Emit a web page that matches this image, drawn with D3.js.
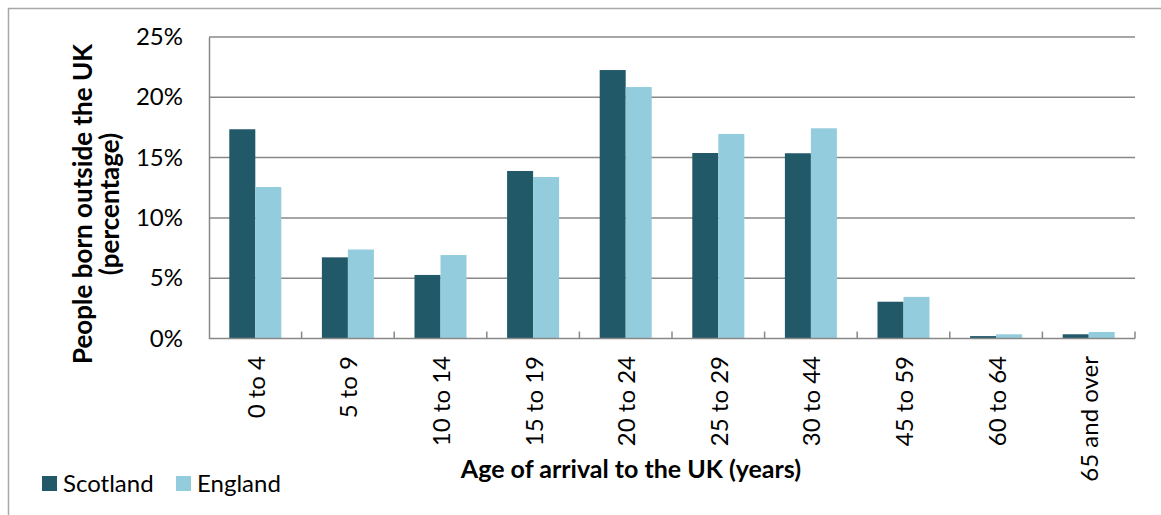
<!DOCTYPE html>
<html>
<head>
<meta charset="utf-8">
<script src="https://cdn.jsdelivr.net/npm/d3@7"></script>
<style>
  html, body { margin: 0; padding: 0; background: #fff; }
  svg { display: block; }
  text { font-family: Lato, "Open Sans", sans-serif; fill: #000; }
</style>
</head>
<body>
<svg id="chart" width="1161" height="515"></svg>
<script>
const categories = ["0 to 4", "5 to 9", "10 to 14", "15 to 19", "20 to 24", "25 to 29", "30 to 44", "45 to 59", "60 to 64", "65 and over"];
const seriesNames = ["Scotland", "England"];
const scotland = [17.35, 6.73, 5.27, 13.89, 22.26, 15.38, 15.36, 3.05, 0.2, 0.35];
const england = [12.56, 7.38, 6.92, 13.39, 20.85, 16.96, 17.43, 3.45, 0.35, 0.54];
const yTicks = [0, 5, 10, 15, 20, 25];
const yTitle = ["People born outside the UK", "(percentage)"];
const xTitle = "Age of arrival to the UK (years)";

const colors = { Scotland: "#215968", England: "#93cddd" };
const gridColor = "#888888";

const svg = d3.select("#chart");
const plot = { left: 209, right: 1135, top: 37, bottom: 338.5 };

// outer frame (extends past right/bottom edge as in reference)
svg.append("rect")
  .attr("x", 8.5).attr("y", 8.5)
  .attr("width", 1200).attr("height", 600)
  .attr("fill", "none").attr("stroke", "#a8a8a8").attr("stroke-width", 1.5);

const x = d3.scaleBand().domain(categories).range([plot.left, plot.right]).padding(0);
const x1 = d3.scaleBand().domain(seriesNames).range([0, x.bandwidth()]).paddingInner(0).paddingOuter(0.78);
const y = d3.scaleLinear().domain([0, 25]).range([plot.bottom, plot.top]);

// gridlines
svg.append("g").selectAll("line").data(yTicks.filter(d => d > 0)).join("line")
  .attr("x1", plot.left).attr("x2", plot.right)
  .attr("y1", d => y(d)).attr("y2", d => y(d))
  .attr("stroke", gridColor).attr("stroke-width", 1.5);

// y axis
const yAxis = d3.axisLeft(y).tickValues(yTicks).tickSize(0).tickPadding(26).tickFormat(d => d + "%");
const gy = svg.append("g").attr("transform", `translate(${plot.left},0)`).call(yAxis);
gy.select(".domain").attr("stroke", gridColor).attr("stroke-width", 1.5);
gy.selectAll("text").attr("font-size", 24).attr("font-family", "Lato, sans-serif").attr("fill", "#000");

// bars
const data = categories.map((c, i) => ({ cat: c, vals: [
  { key: "Scotland", v: scotland[i] }, { key: "England", v: england[i] } ] }));
const groups = svg.append("g").selectAll("g").data(data).join("g")
  .attr("transform", d => `translate(${x(d.cat)},0)`);
groups.selectAll("rect").data(d => d.vals).join("rect")
  .attr("x", d => x1(d.key))
  .attr("width", x1.bandwidth())
  .attr("y", d => y(d.v))
  .attr("height", d => y(0) - y(d.v))
  .attr("fill", d => colors[d.key]);

// x axis with ticks between categories (pointing up)
const xAxisG = svg.append("g");
xAxisG.append("line")
  .attr("x1", plot.left).attr("x2", plot.right)
  .attr("y1", y(0)).attr("y2", y(0))
  .attr("stroke", gridColor).attr("stroke-width", 1.5);
const boundaries = categories.map(c => x(c) + x.bandwidth());
xAxisG.selectAll("line.tick").data(boundaries).join("line").attr("class", "tick")
  .attr("x1", d => d).attr("x2", d => d)
  .attr("y1", y(0)).attr("y2", y(0) - 7)
  .attr("stroke", gridColor).attr("stroke-width", 1.5);

// x tick labels rotated
svg.append("g").selectAll("text").data(categories).join("text")
  .attr("transform", d => `translate(${x(d) + x.bandwidth() / 2 + 1},356) rotate(-90)`)
  .attr("text-anchor", "end")
  .attr("dy", "0.35em")
  .attr("font-size", 24)
  .text(d => d);

// y title
const yt = svg.append("text")
  .attr("transform", `translate(0,204) rotate(-90)`)
  .attr("text-anchor", "middle")
  .attr("font-size", 26)
  .attr("font-weight", "bold");
yt.append("tspan").attr("x", 0).attr("y", 92).text(yTitle[0]);
yt.append("tspan").attr("x", 0).attr("y", 119).text(yTitle[1]);

// x title
svg.append("text")
  .attr("x", 631).attr("y", 478)
  .attr("text-anchor", "middle")
  .attr("font-size", 25)
  .attr("font-weight", "bold")
  .text(xTitle);

// legend
const legendX = [42, 176];
const leg = svg.append("g").selectAll("g").data(seriesNames).join("g")
  .attr("transform", (d, i) => `translate(${legendX[i]},476)`);
leg.append("rect").attr("width", 15).attr("height", 15).attr("fill", d => colors[d]);
leg.append("text").attr("x", 21).attr("y", 16).attr("font-size", 24).text(d => d);
</script>
</body>
</html>
